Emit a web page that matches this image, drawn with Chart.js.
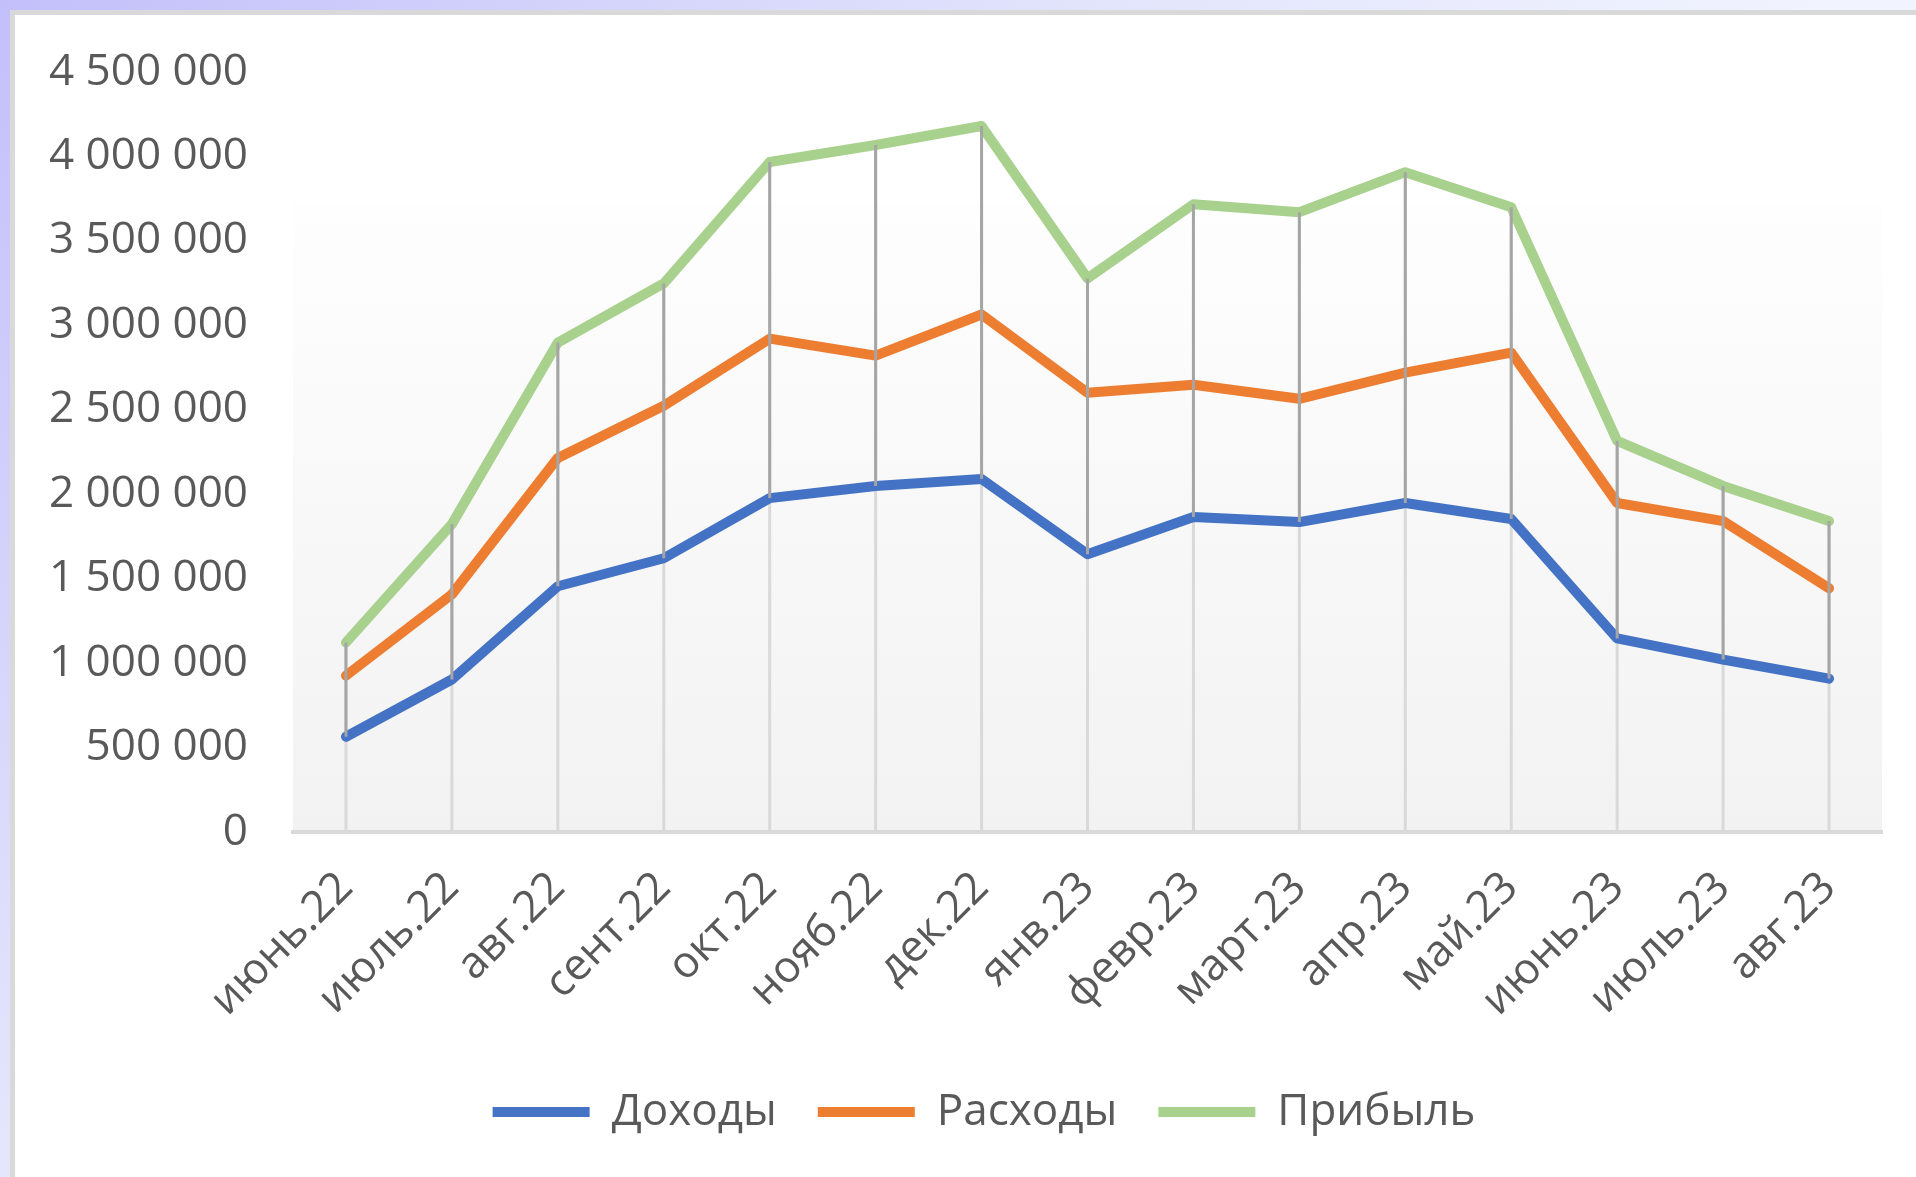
<!DOCTYPE html>
<html lang="ru">
<head>
<meta charset="utf-8">
<title>Доходы, расходы и прибыль</title>
<script src="https://cdn.jsdelivr.net/npm/chart.js@4.4.1/dist/chart.umd.min.js"></script>
<style>
  html, body { margin: 0; padding: 0; }
  body {
    width: 1916px; height: 1177px; overflow: hidden; position: relative;
    background: linear-gradient(135deg, #c3bffa 0%, #e2e4fc 35%, #f1f4fe 60%, #f5f8fe 100%);
  }
  .card {
    position: absolute; left: 10px; top: 10px; right: 0; bottom: 0;
    background: #fff; border-left: 5px solid #d9d9d9; border-top: 5px solid #d9d9d9;
  }
  #chart { position: absolute; left: 0; top: 0; }
</style>
</head>
<body>
<div class="card"></div>
<canvas id="chart" width="1916" height="1177"></canvas>
<script>
// Данные графика
var months = ['июнь.22', 'июль.22', 'авг.22', 'сент.22', 'окт.22', 'нояб.22', 'дек.22', 'янв.23',
              'февр.23', 'март.23', 'апр.23', 'май.23', 'июнь.23', 'июль.23', 'авг.23'];
var dohody  = [564000, 903000, 1455000, 1621000, 1977000, 2049000, 2090000, 1645000,
               1865000, 1835000, 1948000, 1853000, 1146000, 1021000, 908000];
var rashody = [926000, 1407000, 2215000, 2524000, 2921000, 2821000, 3064000, 2601000,
               2648000, 2565000, 2720000, 2838000, 1948000, 1841000, 1443000];
var pribyl  = [1122000, 1823000, 2898000, 3248000, 3967000, 4068000, 4180000, 3278000,
               3717000, 3670000, 3907000, 3699000, 2316000, 2049000, 1841000];
var yTicks  = [0, 500000, 1000000, 1500000, 2000000, 2500000, 3000000, 3500000, 4000000, 4500000];

var textColor = '#595959';
var font = { family: '"Open Sans", sans-serif', size: 44 };

function formatNumber(v) {
  return String(v).replace(/\B(?=(\d{3})+(?!\d))/g, ' ');
}

// Фон области построения (градиент) и вертикальные линии
var plotLines = {
  id: 'plotLines',
  afterLayout: function(chart) {
    // легенда в оригинале центрирована правее
    chart.legend.left += 43;
    chart.legend.right += 43;
  },
  beforeDraw: function(chart) {
    var a = chart.chartArea, ctx = chart.ctx;
    var top = a.top + 0.172 * (a.bottom - a.top);
    var g = ctx.createLinearGradient(0, top, 0, a.bottom);
    g.addColorStop(0, '#fefefe');
    g.addColorStop(1, '#f2f2f2');
    ctx.save();
    ctx.fillStyle = g;
    ctx.fillRect(a.left, top, a.right - a.left, a.bottom - top);
    ctx.restore();
  },
  beforeDatasetsDraw: function(chart) {
    // линии проекции до оси
    var ctx = chart.ctx, x = chart.scales.x, y = chart.scales.y;
    ctx.save();
    ctx.strokeStyle = '#d9d9d9';
    ctx.lineWidth = 3;
    months.forEach(function(m, i) {
      var px = x.getPixelForValue(i);
      var top = Math.max(dohody[i], rashody[i], pribyl[i]);
      ctx.beginPath();
      ctx.moveTo(px, y.getPixelForValue(top));
      ctx.lineTo(px, y.getPixelForValue(0));
      ctx.stroke();
    });
    ctx.restore();
  },
  afterDatasetsDraw: function(chart) {
    // линии максимум-минимум
    var ctx = chart.ctx, x = chart.scales.x, y = chart.scales.y;
    ctx.save();
    ctx.strokeStyle = '#a5a5a5';
    ctx.lineWidth = 3;
    months.forEach(function(m, i) {
      var px = x.getPixelForValue(i);
      var hi = Math.max(dohody[i], rashody[i], pribyl[i]);
      var lo = Math.min(dohody[i], rashody[i], pribyl[i]);
      ctx.beginPath();
      ctx.moveTo(px, y.getPixelForValue(hi));
      ctx.lineTo(px, y.getPixelForValue(lo));
      ctx.stroke();
    });
    ctx.restore();
  }
};

function series(label, data, color) {
  return {
    label: label,
    data: data,
    borderColor: color,
    backgroundColor: color,
    borderWidth: 10,
    borderCapStyle: 'round',
    borderJoinStyle: 'round',
    pointRadius: 0,
    pointHoverRadius: 0,
    tension: 0,
    fill: false
  };
}

var ctx = document.getElementById('chart').getContext('2d');
var chart = new Chart(ctx, {
  type: 'line',
  data: {
    labels: months,
    datasets: [
      series('Доходы', dohody, '#4472c4'),
      series('Расходы', rashody, '#ed7d31'),
      series('Прибыль', pribyl, '#a9d18e')
    ]
  },
  options: {
    responsive: false,
    animation: false,
    layout: { padding: { left: 0, top: 72, right: 34, bottom: 33 } },
    plugins: {
      tooltip: { enabled: false },
      legend: {
        position: 'bottom',
        labels: {
          color: textColor,
          font: font,
          usePointStyle: true,
          pointStyle: 'line',
          pointStyleWidth: 97,
          padding: 41
        }
      }
    },
    scales: {
      x: {
        offset: true,
        grid: { display: false, drawTicks: false },
        border: { display: true, color: '#d9d9d9', width: 4 },
        ticks: {
          color: textColor,
          font: font,
          minRotation: 45,
          maxRotation: 45,
          autoSkip: false,
          padding: 30
        },
        afterFit: function(s) { s.height = 217; }
      },
      y: {
        min: 0,
        max: 4500000,
        grid: { display: false, drawTicks: false },
        border: { display: false },
        afterBuildTicks: function(s) {
          s.ticks = yTicks.map(function(v) { return { value: v }; });
        },
        ticks: {
          color: textColor,
          font: font,
          padding: 45,
          callback: function(v) { return formatNumber(v); }
        },
        afterFit: function(s) { s.width = 293; }
      }
    }
  },
  plugins: [plotLines]
});
</script>
</body>
</html>
